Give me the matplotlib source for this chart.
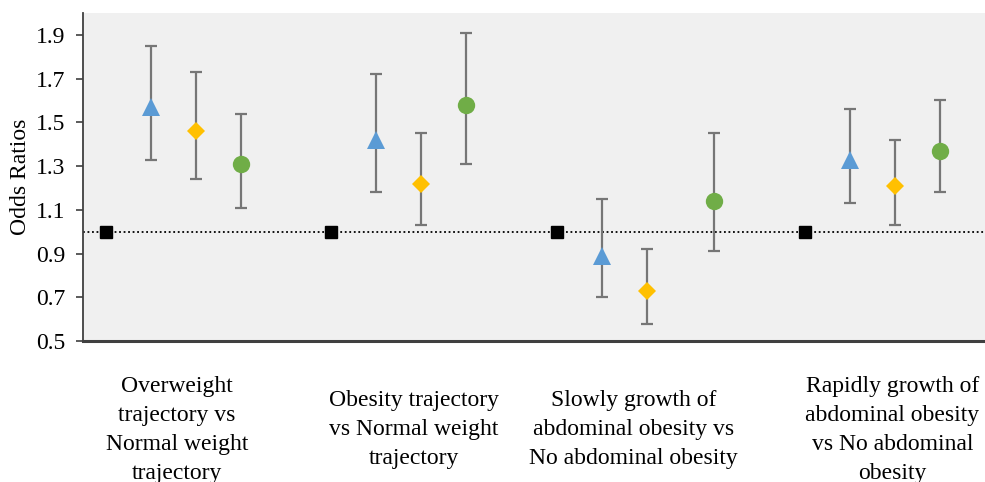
import matplotlib.pyplot as plt

plt.rcParams['font.family'] = ['Liberation Serif', 'DejaVu Serif']

# comparison labels under each group
groups = ['Overweight\ntrajectory vs\nNormal weight\ntrajectory',
          'Obesity trajectory\nvs Normal weight\ntrajectory',
          'Slowly growth of\nabdominal obesity vs\nNo abdominal obesity',
          'Rapidly growth of\nabdominal obesity\nvs No abdominal\nobesity']
label_x = [2.08, 7.33, 12.2, 17.95]

# reference category (OR = 1)
ref_x = [0.5, 5.5, 10.5, 16.0]
ref_or = [1.0, 1.0, 1.0, 1.0]

# model 1 (triangles)
m1_x = [1.5, 6.5, 11.5, 17.0]
m1_or = [1.57, 1.42, 0.89, 1.33]
m1_lo = [1.33, 1.18, 0.70, 1.13]
m1_hi = [1.85, 1.72, 1.15, 1.56]

# model 2 (diamonds)
m2_x = [2.5, 7.5, 12.5, 18.0]
m2_or = [1.46, 1.22, 0.73, 1.21]
m2_lo = [1.24, 1.03, 0.58, 1.03]
m2_hi = [1.73, 1.45, 0.92, 1.42]

# model 3 (circles)
m3_x = [3.5, 8.5, 14.0, 19.0]
m3_or = [1.31, 1.58, 1.14, 1.37]
m3_lo = [1.11, 1.31, 0.91, 1.18]
m3_hi = [1.54, 1.91, 1.45, 1.60]

yticks = [0.5, 0.7, 0.9, 1.1, 1.3, 1.5, 1.7, 1.9]

fig = plt.figure(figsize=(9.85, 4.82), dpi=100)
ax = fig.add_axes([0.0843, 0.2925, 0.9157, 0.6805])
ax.set_facecolor('#f0f0f0')

ax.axhline(1.0, color='black', linestyle=(0, (1, 1.5)), linewidth=1.3, zorder=1)

err_kw = dict(fmt='none', ecolor='#767676', elinewidth=1.6, capsize=4, capthick=1.6, zorder=2)
for xs, ors, lo, hi, mk, col, ms in [
        (m1_x, m1_or, m1_lo, m1_hi, '^', '#5b9bd5', 13.5),
        (m2_x, m2_or, m2_lo, m2_hi, 'D', '#ffc000', 9),
        (m3_x, m3_or, m3_lo, m3_hi, 'o', '#70ad47', 12.5)]:
    yerr = [[o - l for o, l in zip(ors, lo)], [h - o for o, h in zip(ors, hi)]]
    ax.errorbar(xs, ors, yerr=yerr, **err_kw)
    ax.plot(xs, ors, linestyle='none', marker=mk, color=col, markersize=ms,
            markeredgewidth=0, zorder=3)

ax.plot(ref_x, ref_or, linestyle='none', marker='s', color='black', markersize=9, zorder=3)

ax.set_xlim(0, 20)
ax.set_ylim(0.5, 2.0)
ax.set_yticks(yticks)
ax.set_yticklabels([f'{t:.1f}' for t in yticks])
ax.set_xticks([])
ax.tick_params(axis='y', labelsize=17, length=5, width=1.2, color='#404040', pad=8)
ax.set_ylabel('Odds Ratios', fontsize=17, labelpad=3)

for s in ['top', 'right']:
    ax.spines[s].set_visible(False)
ax.spines['left'].set_color('#404040')
ax.spines['left'].set_linewidth(1.3)
ax.spines['bottom'].set_color('#404040')
ax.spines['bottom'].set_linewidth(2.2)

for x, g in zip(label_x, groups):
    ax.text(x, -0.27, g, transform=ax.get_xaxis_transform(), ha='center', va='center',
            fontsize=17, linespacing=1.5, clip_on=False)

fig.savefig('out.png', dpi=100)
